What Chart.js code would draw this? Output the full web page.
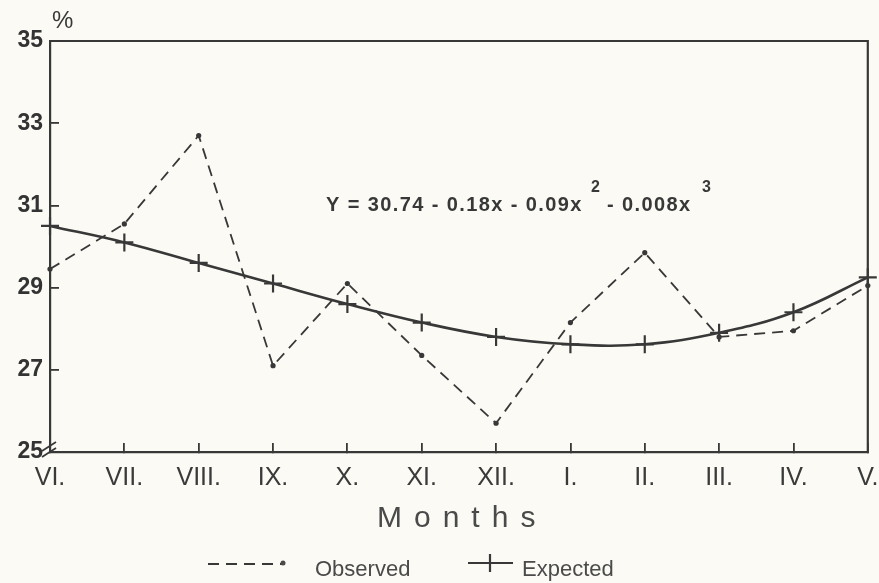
<!DOCTYPE html>
<html>
<head>
<meta charset="utf-8">
<script src="https://cdn.jsdelivr.net/npm/chart.js@4.4.1/dist/chart.umd.min.js"></script>
<style>
  html, body { margin: 0; padding: 0; background: #fbfaf5; }
  #chart { display: block; }
</style>
</head>
<body>
<canvas id="chart" width="879" height="583"></canvas>
<script>
// months of the year, June to May
var monthLabels = ['VI.', 'VII.', 'VIII.', 'IX.', 'X.', 'XI.', 'XII.', 'I.', 'II.', 'III.', 'IV.', 'V.'];
// observed values (%)
var observedValues = [29.45, 30.55, 32.7, 27.1, 29.1, 27.35, 25.7, 28.15, 29.85, 27.8, 27.95, 29.05];
// expected values from the fitted polynomial (%)
var expectedValues = [30.5, 30.1, 29.6, 29.1, 28.6, 28.15, 27.8, 27.62, 27.62, 27.9, 28.4, 29.25];
// y axis
var yMin = 25, yMax = 35, yStep = 2;

var INK = '#383838';
var BG = '#fbfaf5';

var paperPlugin = {
	id: 'paper',
	beforeDraw: function(chart) {
		var ctx = chart.ctx;
		ctx.save();
		ctx.fillStyle = BG;
		ctx.fillRect(0, 0, chart.width, chart.height);
		ctx.restore();
	},
	afterDraw: function(chart) {
		var ctx = chart.ctx;
		var a = chart.chartArea;
		ctx.save();
		ctx.strokeStyle = INK;
		ctx.fillStyle = INK;

		/* frame top and right */
		ctx.lineWidth = 2.2;
		ctx.beginPath();
		ctx.moveTo(a.left, a.top);
		ctx.lineTo(a.right, a.top);
		ctx.lineTo(a.right, a.bottom);
		ctx.stroke();

		/* axis break mark */
		ctx.lineWidth = 1.8;
		ctx.beginPath();
		ctx.moveTo(a.left - 8, a.bottom - 1);
		ctx.lineTo(a.left + 6, a.bottom - 10);
		ctx.moveTo(a.left - 8, a.bottom + 5);
		ctx.lineTo(a.left + 6, a.bottom - 4);
		ctx.stroke();

		/* percent sign */
		ctx.font = '24px "Liberation Sans", Arial, sans-serif';
		ctx.textAlign = 'left';
		ctx.textBaseline = 'alphabetic';
		ctx.fillText('%', a.left + 2, a.top - 13);

		/* regression equation */
		ctx.font = 'bold 20px "Liberation Sans", Arial, sans-serif';
		ctx.letterSpacing = '1.4px';
		ctx.fillText('Y = 30.74 - 0.18x - 0.09x', 326, 211);
		ctx.fillText('- 0.008x', 607, 211);
		ctx.font = 'bold 16px "Liberation Sans", Arial, sans-serif';
		ctx.fillText('2', 591, 192);
		ctx.fillText('3', 702, 192);

		/* axis title */
		ctx.font = '30px "Liberation Sans", Arial, sans-serif';
		ctx.letterSpacing = '12px';
		ctx.fillStyle = '#4a4a4a';
		ctx.fillText('Months', 377, 527);

		/* legend */
		ctx.letterSpacing = '0px';
		ctx.font = '22px "Liberation Sans", Arial, sans-serif';
		ctx.strokeStyle = INK;
		ctx.lineWidth = 1.8;
		ctx.setLineDash([11, 7]);
		ctx.beginPath();
		ctx.moveTo(208, 564);
		ctx.lineTo(283, 564);
		ctx.stroke();
		ctx.setLineDash([]);
		ctx.beginPath();
		ctx.arc(283, 563, 2.5, 0, Math.PI * 2);
		ctx.fill();
		ctx.fillText('Observed', 315, 576);

		ctx.lineWidth = 2.2;
		ctx.beginPath();
		ctx.moveTo(468, 563);
		ctx.lineTo(513, 563);
		ctx.moveTo(490, 554);
		ctx.lineTo(490, 572);
		ctx.stroke();
		ctx.fillText('Expected', 522, 576);
		ctx.restore();
	}
};

var chart = new Chart(document.getElementById('chart'), {
	type: 'line',
	data: {
		labels: monthLabels,
		datasets: [{
			label: 'Observed',
			data: observedValues,
			borderColor: INK,
			backgroundColor: INK,
			borderWidth: 1.8,
			borderDash: [11, 7],
			pointRadius: 2.6,
			pointBorderWidth: 0,
			tension: 0,
			fill: false
		}, {
			label: 'Expected',
			data: expectedValues,
			borderColor: INK,
			backgroundColor: INK,
			borderWidth: 2.6,
			pointStyle: 'cross',
			pointRadius: 9,
			pointBorderWidth: 2.2,
			tension: 0.4,
			fill: false
		}]
	},
	options: {
		responsive: false,
		animation: false,
		layout: { padding: { top: 41, right: 5, left: 0, bottom: 0 } },
		plugins: {
			legend: { display: false },
			tooltip: { enabled: false }
		},
		scales: {
			x: {
				offset: false,
				afterFit: function(s) {
					s.height = 131;
					s.paddingLeft = 0;
					s.paddingRight = 0;
				},
				grid: { drawOnChartArea: false, tickLength: -9, color: INK, lineWidth: 1.8 },
				border: { color: INK, width: 2.2 },
				ticks: {
					autoSkip: false,
					maxRotation: 0,
					padding: 20,
					color: '#3a3a3a',
					font: { family: '"Liberation Sans Narrow", "Liberation Sans", Arial, sans-serif', size: 25 }
				}
			},
			y: {
				min: yMin,
				max: yMax,
				afterFit: function(s) { s.width = 50; },
				grid: { drawOnChartArea: false, tickLength: -9, color: INK, lineWidth: 1.8 },
				border: { color: INK, width: 2.2 },
				ticks: {
					stepSize: yStep,
					padding: 16,
					color: '#333',
					font: { family: '"Liberation Sans", Arial, sans-serif', size: 23, weight: 'bold' }
				}
			}
		}
	},
	plugins: [paperPlugin]
});
</script>
</body>
</html>
